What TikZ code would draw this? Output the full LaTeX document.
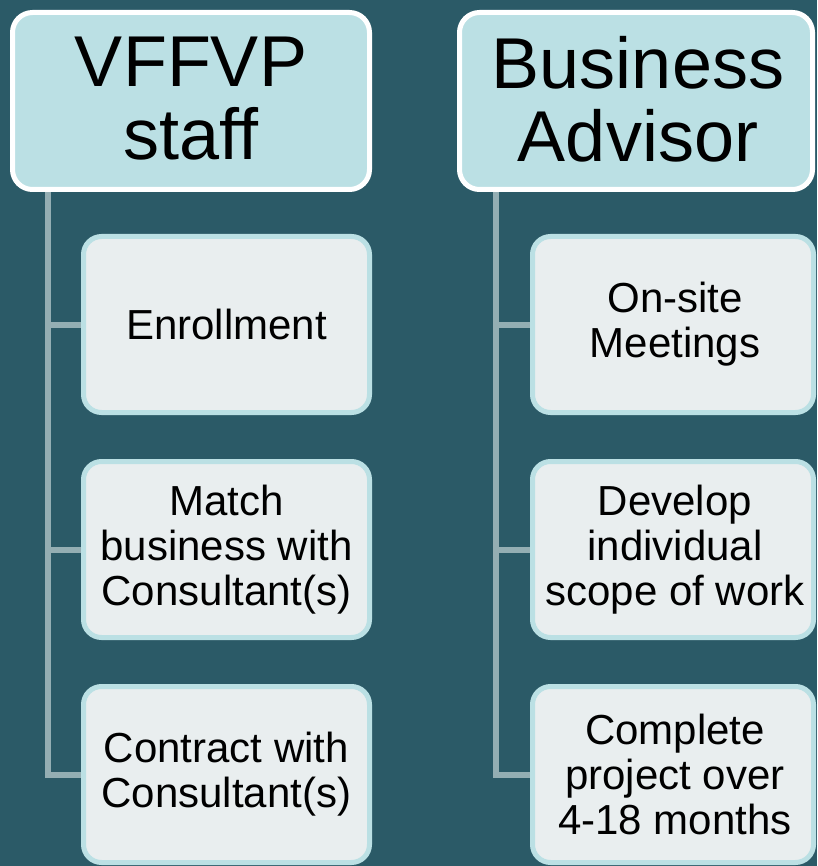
\documentclass[tikz,border=0pt]{standalone}
\usepackage{fontspec}
\setmainfont{Liberation Sans}
\usetikzlibrary{backgrounds}
\definecolor{bgc}{HTML}{2B5A67}
\definecolor{hdrfill}{HTML}{BBE0E4}
\definecolor{kidfill}{HTML}{E9EEEF}
\definecolor{kidborder}{HTML}{BBE0E4}
\definecolor{linec}{HTML}{94AEB3}
\tikzset{
  hdr/.style={draw=white, line width=5pt, fill=hdrfill, rounded corners=20pt,
    minimum height=177pt, inner sep=0pt},
  htxt/.style={align=center, inner sep=0pt, text=black,
    font=\fontsize{72}{73}\selectfont},
  kid/.style={draw=kidborder, line width=5pt, fill=kidfill, rounded corners=18pt,
    minimum height=176pt, inner sep=0pt, align=center, text=black,
    font=\fontsize{42}{45}\selectfont},
  conn/.style={draw=linec, line width=6pt, line join=miter}
}
\begin{document}
\begin{tikzpicture}[x=1pt,y=-1pt]
\useasboundingbox (0,0) rectangle (817,866);
% headers
\node[hdr, minimum width=357pt] (h1) at (191,101) {};
\node[htxt] (h1t) at (191,99) {VFFVP\\staff};
\node[hdr, minimum width=353pt] (h2) at (636,101) {};
\node[htxt] (h2t) at (638,99) {Business\\Advisor};
% left children
\node[kid, minimum width=286pt] (c11) at (226.5,324.5) {Enrollment};
\node[kid, minimum width=286pt] (c12) at (226.5,549.5) {Match\\business with\\Consultant(s)};
\node[kid, minimum width=286pt] (c13) at (226.5,774.5) {Contract with\\Consultant(s)};
% right children
\node[kid, minimum width=281pt] (c21) at (673,324.5) {};
\node[kid, minimum width=281pt] (c22) at (673,549.5) {};
\node[kid, minimum width=281pt] (c23) at (673,774.5) {};
\node[kid, draw=none, fill=none] (t21) at (675,324.5) {On-site\\Meetings};
\node[kid, draw=none, fill=none] (t22) at (675,549.5) {Develop\\individual\\scope of work};
\node[kid, draw=none, fill=none] (t23) at (675,774.5) {Complete\\project over\\4-18 months};
\coordinate (l1) at (47.5,188);
\coordinate (l2) at (496,188);
\begin{scope}[on background layer]
  \fill[bgc] (0,0) rectangle (817,866);
  \draw[conn] (l1) |- (c13.west);
  \draw[conn] (l1 |- c11.west) -- (c11.west);
  \draw[conn] (l1 |- c12.west) -- (c12.west);
  \draw[conn] (l2) |- (c23.west);
  \draw[conn] (l2 |- c21.west) -- (c21.west);
  \draw[conn] (l2 |- c22.west) -- (c22.west);
\end{scope}
\end{tikzpicture}
\end{document}
